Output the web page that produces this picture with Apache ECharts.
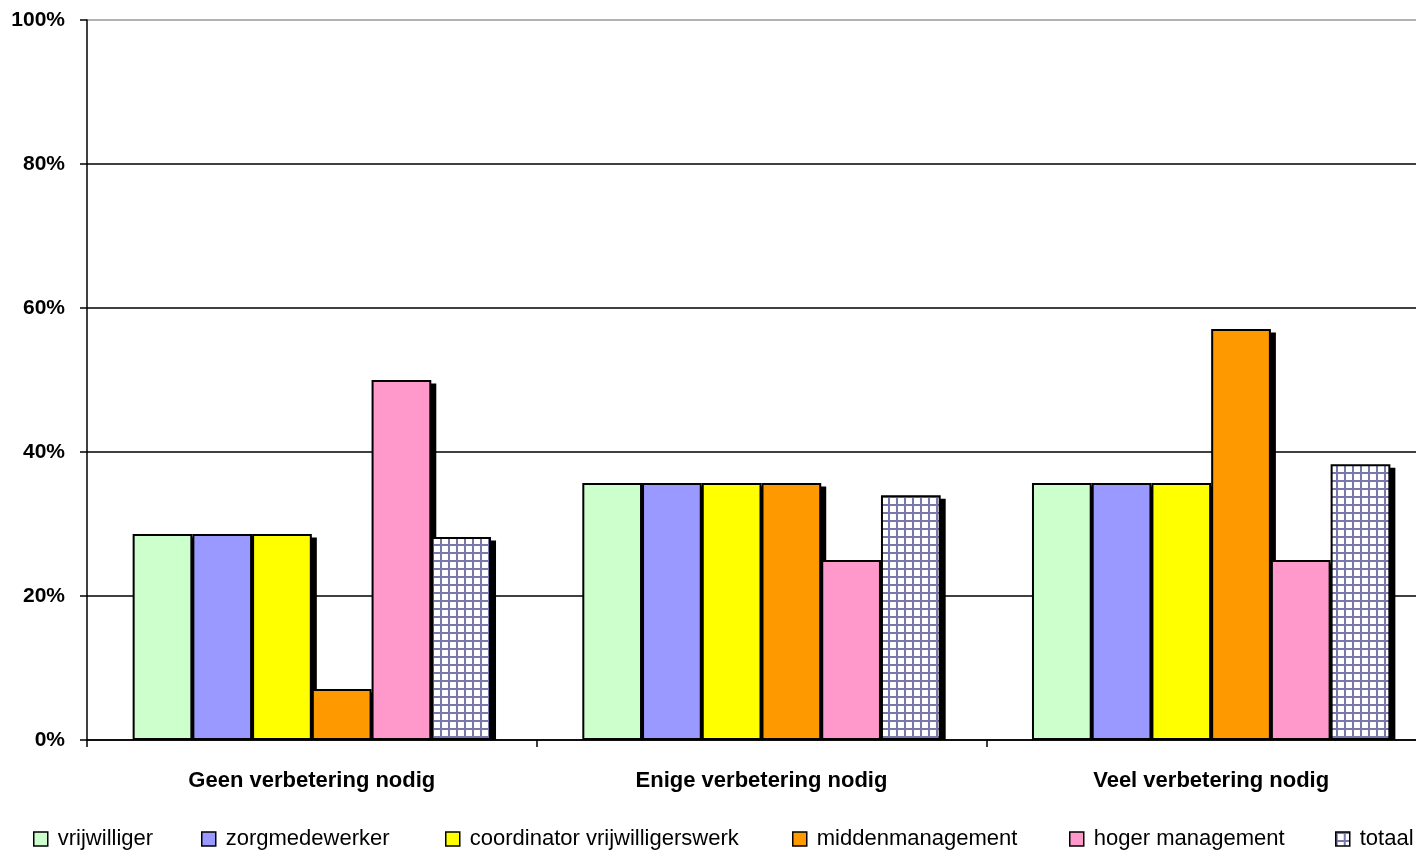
<!DOCTYPE html>
<html>
<head>
<meta charset="utf-8">
<script src="https://cdn.jsdelivr.net/npm/echarts@6/dist/echarts.min.js"></script>
<style>
html,body{margin:0;padding:0;background:#fff;}
#chart{width:1416px;height:856px;}
</style>
</head>
<body>
<div id="chart"></div>
<script>
const categories = ['Geen verbetering nodig', 'Enige verbetering nodig', 'Veel verbetering nodig'];
const seriesNames = ['vrijwilliger', 'zorgmedewerker', 'coordinator vrijwilligerswerk', 'middenmanagement', 'hoger management', 'totaal'];
const vrijwilliger = [28.6, 35.7, 35.7];
const zorgmedewerker = [28.6, 35.7, 35.7];
const coordinator = [28.6, 35.7, 35.7];
const middenmanagement = [7.1, 35.7, 57.1];
const hogerManagement = [50.0, 25.0, 25.0];
const totaal = [28.2, 34.0, 38.3];
const yTicks = [0, 20, 40, 60, 80, 100];

const seriesValues = [vrijwilliger, zorgmedewerker, coordinator, middenmanagement, hogerManagement, totaal];

// grid pattern for "totaal"
const pc = document.createElement('canvas');
pc.width = 8; pc.height = 8;
const g = pc.getContext('2d');
g.fillStyle = '#ffffff'; g.fillRect(0, 0, 8, 8);
g.fillStyle = '#7878ac';
g.fillRect(0, 0, 8, 2);
g.fillRect(0, 0, 2, 8);
const pattern = { image: pc, repeat: 'repeat' };

const colors = ['#ccffcc', '#9999ff', '#ffff00', '#ff9900', '#ff99cc', pattern];

const FONT = "'Liberation Sans', Arial, sans-serif";

// plot geometry (style only)
const PLOT_LEFT = 87, PLOT_TOP = 20, PLOT_W = 1349, PLOT_H = 720;
const SHADOW_DX = 5, SHADOW_DY = 3.5;
const shadowShift = SHADOW_DY / PLOT_H * 100;

const legendLefts = [33, 201, 445, 792, 1069, 1335];

const chart = echarts.init(document.getElementById('chart'));
chart.setOption({
  backgroundColor: '#ffffff',
  animation: false,
  textStyle: { fontFamily: FONT },
  grid: [
    { left: PLOT_LEFT, top: PLOT_TOP, width: PLOT_W, height: PLOT_H, outerBoundsMode: 'none' },
    { left: PLOT_LEFT + SHADOW_DX, top: PLOT_TOP, width: PLOT_W, height: PLOT_H, outerBoundsMode: 'none' }
  ],
  legend: seriesNames.map((name, i) => ({
    left: legendLefts[i], top: 828,
    padding: 0,
    itemWidth: 14, itemHeight: 14,
    icon: 'rect',
    itemStyle: { borderColor: '#000', borderWidth: 1.5 },
    textStyle: { fontFamily: FONT, fontSize: 22, color: '#000', padding: [0, 0, 0, 5] },
    selectedMode: false,
    data: [name]
  })),
  xAxis: [
    {
      type: 'category', gridIndex: 0,
      data: categories,
      axisLine: { lineStyle: { color: '#000', width: 1.5 } },
      axisTick: { show: true, length: 7, lineStyle: { color: '#000', width: 1.5 } },
      axisLabel: { fontFamily: FONT, fontSize: 22, fontWeight: 'bold', color: '#000', margin: 30 }
    },
    { type: 'category', gridIndex: 1, data: categories, show: false }
  ],
  yAxis: [
    {
      type: 'value', gridIndex: 0, min: 0, max: 100, interval: 20,
      axisLine: { show: true, lineStyle: { color: '#000', width: 1.5 } },
      axisTick: { show: true, length: 7, lineStyle: { color: '#000', width: 1.5 } },
      splitLine: { show: true, lineStyle: { color: ['#000', '#000', '#000', '#000', '#000', '#999'], width: 1.5 } },
      axisLabel: { fontFamily: FONT, fontSize: 21, fontWeight: 'bold', color: '#000', margin: 22,
        formatter: v => yTicks.includes(v) ? v + '%' : '' }
    },
    { type: 'value', gridIndex: 1, min: shadowShift, max: 100 + shadowShift, show: false }
  ],
  series: [
    ...seriesNames.map((name, i) => ({
      name: 'schaduw ' + name,
      type: 'bar',
      xAxisIndex: 1, yAxisIndex: 1,
      data: seriesValues[i],
      barGap: '0%',
      barCategoryGap: '20.3%',
      clip: true,
      z: 1,
      itemStyle: { color: '#000' },
      emphasis: { disabled: true },
      tooltip: { show: false }
    })),
    ...seriesNames.map((name, i) => ({
      name: name,
      type: 'bar',
      xAxisIndex: 0, yAxisIndex: 0,
      data: seriesValues[i],
      barGap: '0%',
      barCategoryGap: '20.3%',
      clip: true,
      z: 3,
      itemStyle: { color: colors[i], borderColor: '#000', borderWidth: 2 },
      emphasis: { disabled: true }
    }))
  ]
});
</script>
</body>
</html>
